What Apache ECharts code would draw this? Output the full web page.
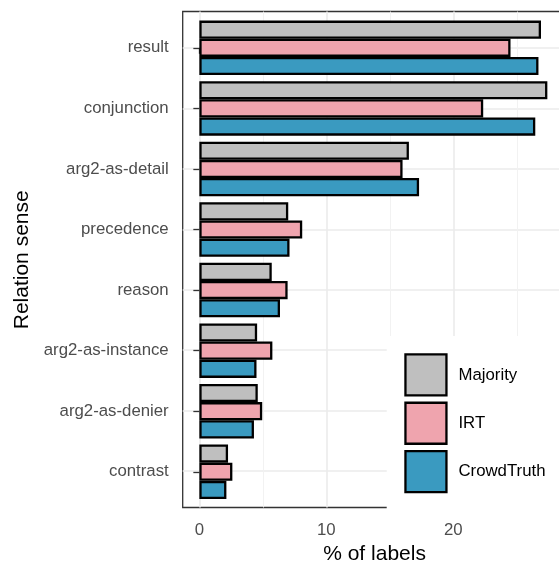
<!DOCTYPE html>
<html>
<head>
<meta charset="utf-8">
<script src="https://cdn.jsdelivr.net/npm/echarts@6/dist/echarts.min.js"></script>
<style>
html,body{margin:0;padding:0;background:#fff;}
#c{width:559px;height:562px;}
</style>
</head>
<body>
<div id="c"></div>
<script>
const categories = ["result","conjunction","arg2-as-detail","precedence","reason","arg2-as-instance","arg2-as-denier","contrast"];
const majority   = [26.9, 27.4, 16.5, 7.0, 5.7, 4.55, 4.6, 2.26];
const irt        = [24.5, 22.35, 16.0, 8.1, 6.95, 5.75, 4.95, 2.6];
const crowdTruth = [26.7, 26.45, 17.3, 7.1, 6.35, 4.5, 4.3, 2.13];
const xTicks = [0, 10, 20];
const xMinorTicks = [5, 15, 25];
const seriesNames = ["Majority", "IRT", "CrowdTruth"];
const colors = ["#BFBFBF", "#EFA4AE", "#3A9AC0"];

const FONT = '"Liberation Sans", Arial, Helvetica, sans-serif';
const XMIN = -1.31, XMAX = 28.9;
const panel = {left: 182.7, top: 11.5, width: 383.7, height: 496};
const band = 60.56;
const nCat = categories.length;
const catIdx = categories.map((_, i) => i);

const chart = echarts.init(document.getElementById('c'), null, {renderer: 'canvas'});
const series = [majority, irt, crowdTruth].map((d, i) => ({
  name: seriesNames[i],
  type: 'bar',
  xAxisIndex: 0, yAxisIndex: 0,
  data: d,
  barGap: '0%',
  barCategoryGap: '10%',
  itemStyle: {color: colors[i], borderColor: '#000', borderWidth: 2.3},
  emphasis: {disabled: true},
  z: 3
}));

chart.setOption({
  animation: false,
  backgroundColor: '#fff',
  textStyle: {fontFamily: FONT},
  grid: [
    {left: panel.left, top: panel.top + 0.1*band, width: panel.width, height: nCat*band, show: false,
     containLabel: false, outerBoundsMode: 'none'},
    {left: panel.left, top: panel.top, width: panel.width, height: panel.height, show: true,
     containLabel: false, outerBoundsMode: 'none',
     borderColor: '#333333', borderWidth: 1.3, backgroundColor: '#fff', z: 0}
  ],
  xAxis: [
    {type: 'value', gridIndex: 0, min: XMIN, max: XMAX, show: false},
    {type: 'value', gridIndex: 1, min: XMIN, max: XMAX, position: 'bottom',
     name: '% of labels', nameLocation: 'middle', nameGap: 35,
     nameTextStyle: {fontSize: 21, color: '#000', fontFamily: FONT},
     axisLine: {show: false},
     axisTick: {show: true, length: 6, customValues: xTicks, lineStyle: {color: '#333333', width: 1.3}},
     axisLabel: {show: true, customValues: xTicks, margin: 14, fontSize: 16.8, color: '#4D4D4D', fontFamily: FONT},
     splitLine: {show: true, lineStyle: {color: '#EBEBEB', width: 1.6}}},
    {type: 'value', gridIndex: 1, min: XMIN, max: XMAX, position: 'bottom',
     axisLine: {show: false},
     axisTick: {show: false, customValues: xMinorTicks},
     axisLabel: {show: false, customValues: xMinorTicks},
     splitLine: {show: true, lineStyle: {color: '#F0F0F0', width: 0.9}}}
  ],
  yAxis: [
    {type: 'category', gridIndex: 0, data: categories, inverse: true,
     name: 'Relation sense', nameLocation: 'middle', nameGap: 150, nameRotate: 90,
     nameTextStyle: {fontSize: 21, color: '#000', fontFamily: FONT},
     axisLine: {show: false},
     axisTick: {show: true, alignWithLabel: true, length: 6, lineStyle: {color: '#333333', width: 1.3}},
     axisLabel: {margin: 14, fontSize: 16.8, color: '#4D4D4D', fontFamily: FONT},
     splitLine: {show: false}},
    {type: 'value', gridIndex: 1, min: -0.6, max: nCat - 1 + 0.6, inverse: true,
     axisLine: {show: false},
     axisTick: {show: false, customValues: catIdx},
     axisLabel: {show: false, customValues: catIdx},
     splitLine: {show: true, lineStyle: {color: '#EBEBEB', width: 1.6}}}
  ],
  legend: {
    orient: 'vertical',
    left: 386.7, top: 336,
    padding: [17.3, 20, 17.3, 17.6],
    backgroundColor: '#fff',
    itemWidth: 41, itemHeight: 41, itemGap: 5,
    icon: 'rect',
    selectedMode: false,
    data: seriesNames,
    itemStyle: {borderColor: '#000', borderWidth: 2.3},
    textStyle: {fontSize: 16.8, color: '#000', fontFamily: FONT, padding: [0, 0, 0, 7]},
    z: 5
  },
  series: series
});
</script>
</body>
</html>
